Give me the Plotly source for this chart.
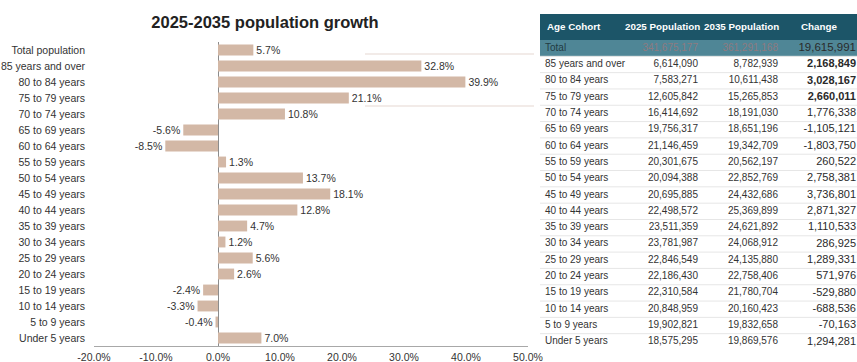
import plotly.graph_objects as go

# Age cohorts (chart order, top to bottom)
bar_labels = [
    "Total population", "85 years and over", "80 to 84 years", "75 to 79 years",
    "70 to 74 years", "65 to 69 years", "60 to 64 years", "55 to 59 years",
    "50 to 54 years", "45 to 49 years", "40 to 44 years", "35 to 39 years",
    "30 to 34 years", "25 to 29 years", "20 to 24 years", "15 to 19 years",
    "10 to 14 years", "5 to 9 years", "Under 5 years",
]
growth_pct = [5.7, 32.8, 39.9, 21.1, 10.8, -5.6, -8.5, 1.3, 13.7, 18.1,
              12.8, 4.7, 1.2, 5.6, 2.6, -2.4, -3.3, -0.4, 7.0]
x_ticks = [-20, -10, 0, 10, 20, 30, 40, 50]

# Table data
table_cohorts = ["Total"] + bar_labels[1:]
pop_2025 = [341675177, 6614090, 7583271, 12605842, 16414692, 19756317, 21146459,
            20301675, 20094388, 20695885, 22498572, 23511359, 23781987, 22846549,
            22186430, 22310584, 20848959, 19902821, 18575295]
pop_2035 = [361291168, 8782939, 10611438, 15265853, 18191030, 18651196, 19342709,
            20562197, 22852769, 24432686, 25369899, 24621892, 24068912, 24135880,
            22758406, 21780704, 20160423, 19832658, 19869576]
change = [b - a for a, b in zip(pop_2025, pop_2035)]
bold_change_rows = {1, 2, 3}
header = ["Age Cohort", "2025 Population", "2035 Population", "Change"]

# Styling
BAR = "#d3b8a6"
TEXT = "#333333"
HEAD_BG = "#1c5568"
TOTAL_BG = "#4f8696"
FONT = "Liberation Sans, Arial, sans-serif"
W, H = 857, 362
TBL_X0 = 540           # left edge of the table block (px)
TBL_W = W - TBL_X0


def px_x(p):           # horizontal pixel -> paper fraction
    return p / W


def px_y(p):           # vertical pixel (from top) -> paper fraction
    return 1 - p / H


def tx(p):             # pixel inside the table block -> x2 fraction
    return (p - TBL_X0) / TBL_W


fig = go.Figure()

# ---- growth bars -----------------------------------------------------------
fig.add_trace(go.Bar(
    x=growth_pct,
    y=bar_labels,
    orientation="h",
    marker=dict(color=BAR, line=dict(width=0)),
    text=[f"{v:.1f}%" for v in growth_pct],
    textposition="outside",
    constraintext="none",
    textfont=dict(size=10.5, color=TEXT, family=FONT),
    cliponaxis=False,
    width=0.68,
    hoverinfo="skip",
))

# ---- table body (text columns on their own axes) ---------------------------
n = len(table_cohorts)
fmt = lambda v: f"{v:,}"

col_specs = [
    # (text, x anchor px, textposition, colours, sizes)
    (table_cohorts, 545, "middle right",
     ["#223b43"] + [TEXT] * (n - 1), [10] * n),
    ([fmt(v) for v in pop_2025], 698, "middle left",
     ["#8e7a80"] + [TEXT] * (n - 1), [10] * n),
    ([fmt(v) for v in pop_2035], 778, "middle left",
     ["#8e7a80"] + [TEXT] * (n - 1), [10] * n),
    ([f"<b>{fmt(v)}</b>" if i in bold_change_rows else fmt(v)
      for i, v in enumerate(change)], 856, "middle left",
     ["#2a2a2a"] * n, [11.5] + [11] * (n - 1)),
]
for texts, xp, pos, colors, sizes in col_specs:
    fig.add_trace(go.Scatter(
        x=[tx(xp)] * n, y=table_cohorts,
        mode="text", text=texts, textposition=pos,
        textfont=dict(family=FONT, color=colors, size=sizes),
        cliponaxis=False, hoverinfo="skip",
        xaxis="x2", yaxis="y2",
    ))

shapes = []
# Total row band
shapes.append(dict(type="rect", xref="x2 domain", yref="y2",
                   x0=0, x1=1, y0=-0.5, y1=0.5,
                   fillcolor=TOTAL_BG, line=dict(width=0), layer="below"))
# row separators
for i in range(1, n):
    shapes.append(dict(type="line", xref="x2 domain", yref="y2",
                       x0=0, x1=1, y0=i - 0.5, y1=i - 0.5,
                       line=dict(color="#e6e6e6", width=1), layer="below"))
# header band
shapes.append(dict(type="rect", xref="paper", yref="paper",
                   x0=px_x(TBL_X0), x1=1, y0=px_y(40), y1=px_y(14),
                   fillcolor=HEAD_BG, line=dict(width=0), layer="below"))
# faint horizontal rules across the upper right of the bar panel
for yy in (54, 106):
    shapes.append(dict(type="line", xref="paper", yref="paper",
                       x0=px_x(365), x1=px_x(534), y0=px_y(yy), y1=px_y(yy),
                       line=dict(color="#eee5e1", width=1.5), layer="below"))

# header labels
annotations = []
head_pos = [(545, "left"), (662, "center"), (741, "center"), (819, "center")]
for label, (xp, anchor) in zip(header, head_pos):
    annotations.append(dict(
        text=f"<b>{label}</b>", xref="paper", yref="paper",
        x=px_x(xp), y=px_y(27), xanchor=anchor, yanchor="middle",
        showarrow=False, font=dict(color="white", size=9.8, family=FONT),
    ))

fig.update_layout(
    width=W, height=H,
    margin=dict(l=0, r=0, t=0, b=0),
    paper_bgcolor="white", plot_bgcolor="white",
    showlegend=False,
    font=dict(family=FONT, color=TEXT, size=10.5),
    title=dict(
        text="<b>2025-2035 population growth</b>",
        x=px_x(265), xanchor="center", y=px_y(22), yanchor="middle",
        font=dict(size=16.5, color="#222222", family=FONT),
    ),
    xaxis=dict(
        domain=[px_x(94), px_x(528)],
        range=[-20, 50],
        tickvals=x_ticks,
        ticktext=[f"{v:.1f}%" for v in x_ticks],
        showgrid=False,
        zeroline=True, zerolinecolor="#8c8c8c", zerolinewidth=1,
        showline=True, linecolor="#a8a8a8", linewidth=1,
        ticks="", ticklabelstandoff=1,
        tickfont=dict(size=10.5, color=TEXT),
        automargin=False, fixedrange=True,
    ),
    yaxis=dict(
        domain=[px_y(346), px_y(42)],
        autorange="reversed",
        showgrid=False, zeroline=False, showline=False,
        ticks="", ticklabelstandoff=8,
        tickfont=dict(size=10.5, color=TEXT),
        automargin=False, fixedrange=True,
    ),
    xaxis2=dict(
        domain=[px_x(TBL_X0), 1.0], range=[0, 1], anchor="y2",
        visible=False, fixedrange=True,
    ),
    yaxis2=dict(
        domain=[px_y(350), px_y(40)], anchor="x2",
        type="category", categoryorder="array", categoryarray=table_cohorts,
        range=[n - 0.5, -0.5],
        visible=False, fixedrange=True,
    ),
    bargap=0.32,
    shapes=shapes,
    annotations=annotations,
)

fig.write_html("out.html")
